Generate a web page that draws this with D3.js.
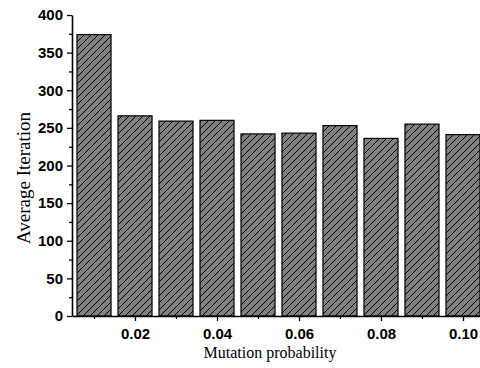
<!DOCTYPE html>
<html>
<head>
<meta charset="utf-8">
<script src="https://cdn.jsdelivr.net/npm/d3@7"></script>
<style>
  body { margin: 0; background: #fff; }
  svg { display: block; }
</style>
</head>
<body>
<svg id="chart" width="480" height="368"></svg>
<script>
// data
var probs = [0.01, 0.02, 0.03, 0.04, 0.05, 0.06, 0.07, 0.08, 0.09, 0.10];
var iterations = [374, 266, 259, 260, 242, 243, 253, 236, 255, 241];
var xMajorTicks = [0.02, 0.04, 0.06, 0.08, 0.10];
var xMinorTicks = [0.01, 0.03, 0.05, 0.07, 0.09];
var yMajorTicks = [0, 50, 100, 150, 200, 250, 300, 350, 400];
var yMinorTicks = [25, 75, 125, 175, 225, 275, 325, 375];

var svg = d3.select("#chart"),
  plotLeft = 72, plotBottom = 316, plotTop = 15, plotRight = 480;

var xScale = d3.scaleLinear().domain([0.00463, 0.10415]).range([plotLeft, plotRight]),
  yScale = d3.scaleLinear().domain([0, 400]).range([plotBottom, plotTop]);

var barW = xScale(0.01 + 0.0083) - xScale(0.01);

// hatch pattern, "/" lines on grey
var pat = svg.append("defs").append("pattern")
  .attr("id", "hatch")
  .attr("patternUnits", "userSpaceOnUse")
  .attr("width", 7).attr("height", 7);
pat.append("rect").attr("width", 7).attr("height", 7).attr("fill", "#808080");
pat.append("path")
  .attr("d", "M-1,1 L1,-1 M0,7 L7,0 M6,8 L8,6")
  .attr("stroke", "#000").attr("stroke-width", 1);

// bars
svg.append("g")
  .selectAll("rect")
  .data(probs)
  .enter()
  .append("rect")
  .attr("x", function (d) { return xScale(d) - barW / 2; })
  .attr("y", function (d, i) { return yScale(iterations[i]); })
  .attr("width", barW)
  .attr("height", function (d, i) { return plotBottom - yScale(iterations[i]); })
  .attr("fill", "url(#hatch)")
  .attr("stroke", "#000")
  .attr("stroke-width", 1.2);

// x axis
svg.append("g")
  .attr("transform", "translate(0," + plotBottom + ")")
  .call(d3.axisBottom(xScale).tickValues(xMajorTicks).tickFormat(d3.format(".2f")).tickSizeInner(5).tickSizeOuter(0).tickPadding(7));
svg.append("g")
  .attr("transform", "translate(0," + plotBottom + ")")
  .call(d3.axisBottom(xScale).tickValues(xMinorTicks).tickFormat("").tickSizeInner(3).tickSizeOuter(0))
  .select(".domain").remove();

// y axis
svg.append("g")
  .attr("transform", "translate(" + plotLeft + ",0)")
  .call(d3.axisLeft(yScale).tickValues(yMajorTicks).tickSizeInner(5).tickSizeOuter(0).tickPadding(4));
svg.append("g")
  .attr("transform", "translate(" + plotLeft + ",0)")
  .call(d3.axisLeft(yScale).tickValues(yMinorTicks).tickFormat("").tickSizeInner(3).tickSizeOuter(0))
  .select(".domain").remove();

svg.selectAll(".domain").attr("stroke-width", 1.6);
svg.selectAll(".tick line").attr("stroke-width", 1.3);
svg.selectAll(".tick text")
  .attr("font-family", "Liberation Sans, Arial, sans-serif")
  .attr("font-weight", "bold")
  .attr("font-size", 15)
  .attr("fill", "#000");

// axis titles
svg.append("text")
  .attr("x", 270)
  .attr("y", 358)
  .attr("text-anchor", "middle")
  .style("font-family", "Liberation Serif, Times New Roman, serif")
  .style("font-size", "16px")
  .text("Mutation probability");

svg.append("text")
  .attr("text-anchor", "middle")
  .attr("transform", "translate(30,178)rotate(-90)")
  .style("font-family", "Liberation Serif, Times New Roman, serif")
  .style("font-size", "19px")
  .text("Average Iteration");
</script>
</body>
</html>
